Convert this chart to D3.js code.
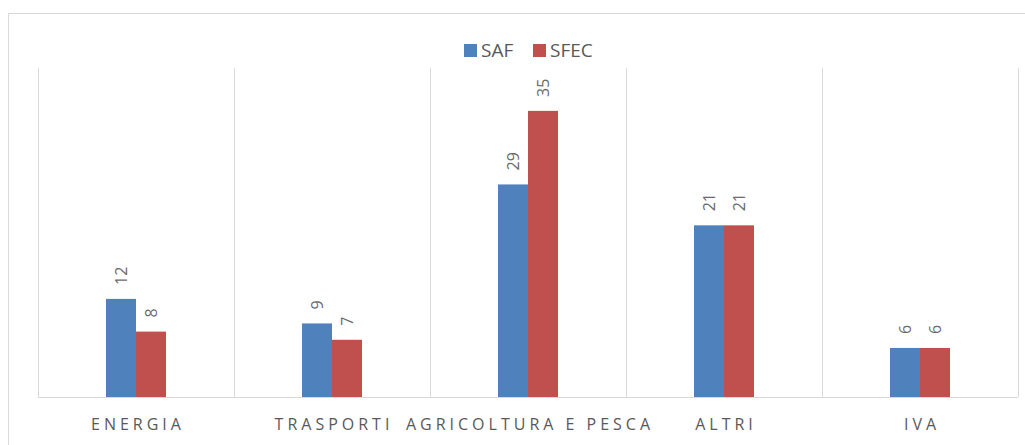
<!DOCTYPE html>
<html><head><meta charset="utf-8">
<script src="https://cdn.jsdelivr.net/npm/d3@7"></script>
<style>html,body{margin:0;padding:0;background:#fff;}svg{display:block;}</style>
</head><body>
<svg id="c" width="1025" height="445"></svg>
<script>
const categories = ["ENERGIA", "TRASPORTI", "AGRICOLTURA E PESCA", "ALTRI", "IVA"];
const seriesNames = ["SAF", "SFEC"];
// bar heights as drawn in the picture
const safValues = [12, 9, 26, 21, 6];
const sfecValues = [8, 7, 35, 21, 6];
// data labels as printed in the picture
const safLabels = [12, 9, 29, 21, 6];
const sfecLabels = [8, 7, 35, 21, 6];
const colors = ["#4F81BD", "#C0504D"];

(function(){
const svg = d3.select("#c");
const FONT = "'Open Sans', 'Liberation Sans', sans-serif";
// outer chart border
svg.append("rect").attr("x", 8.5).attr("y", 13.5).attr("width", 1030).attr("height", 460)
  .attr("fill", "none").attr("stroke", "#d9d9d9").attr("stroke-width", 1);

const pL = 38, pR = 1018, pT = 70, pB = 397;
const x0 = d3.scaleBand().domain(categories).range([pL, pR]).padding(0);
const x1 = d3.scaleBand().domain(seriesNames).range([0, 60]);
const y = d3.scaleLinear().domain([0, 40]).range([pB, pT]);

// vertical category separators
const seps = categories.map(c => x0(c)).concat([pR]);
svg.append("g").selectAll("line").data(seps).join("line")
  .attr("x1", d => Math.round(d) + 0.5).attr("x2", d => Math.round(d) + 0.5)
  .attr("y1", 68).attr("y2", pB)
  .attr("stroke", "#d9d9d9").attr("stroke-width", 1);

const data = categories.map((c, i) => ({cat: c, vals: [safValues[i], sfecValues[i]], labs: [safLabels[i], sfecLabels[i]]}));
const groups = svg.append("g").selectAll("g").data(data).join("g")
  .attr("transform", d => `translate(${x0(d.cat) + x0.bandwidth()/2 - 30},0)`);

const items = d => d.vals.map((v, j) => ({v, lab: d.labs[j], s: seriesNames[j], j}));

groups.selectAll("rect").data(items).join("rect")
  .attr("x", d => x1(d.s)).attr("width", x1.bandwidth())
  .attr("y", d => y(d.v)).attr("height", d => y(0) - y(d.v))
  .attr("fill", d => colors[d.j]);

const lfs = 16;
groups.selectAll("text").data(items).join("text")
  .attr("transform", d => `translate(${x1(d.s) + x1.bandwidth()/2 + lfs*0.36},${y(d.v) - 14}) rotate(-90)`)
  .attr("text-anchor", "start")
  .attr("font-family", FONT)
  .attr("font-size", lfs).attr("fill", "#6b6b6b")
  .text(d => d.lab);

// x axis line
svg.append("line").attr("x1", pL).attr("x2", pR).attr("y1", pB + 0.5).attr("y2", pB + 0.5)
  .attr("stroke", "#d9d9d9");

// category labels
const ls = 4;
svg.append("g").selectAll("text").data(categories).join("text")
  .attr("x", d => x0(d) + x0.bandwidth()/2 + ls/2)
  .attr("y", 430)
  .attr("text-anchor", "middle")
  .attr("font-family", FONT)
  .attr("font-size", 16).attr("fill", "#595959")
  .attr("letter-spacing", ls + "px")
  .text(d => d);

// legend
const legend = svg.append("g");
const lx = [464, 533];
seriesNames.forEach((s, i) => {
  legend.append("rect").attr("x", lx[i]).attr("y", 44).attr("width", 13).attr("height", 13).attr("fill", colors[i]);
  legend.append("text").attr("x", lx[i] + 17).attr("y", 57)
    .attr("font-family", FONT)
    .attr("font-size", 19).attr("fill", "#595959").text(s);
});
})();
</script>
</body></html>
